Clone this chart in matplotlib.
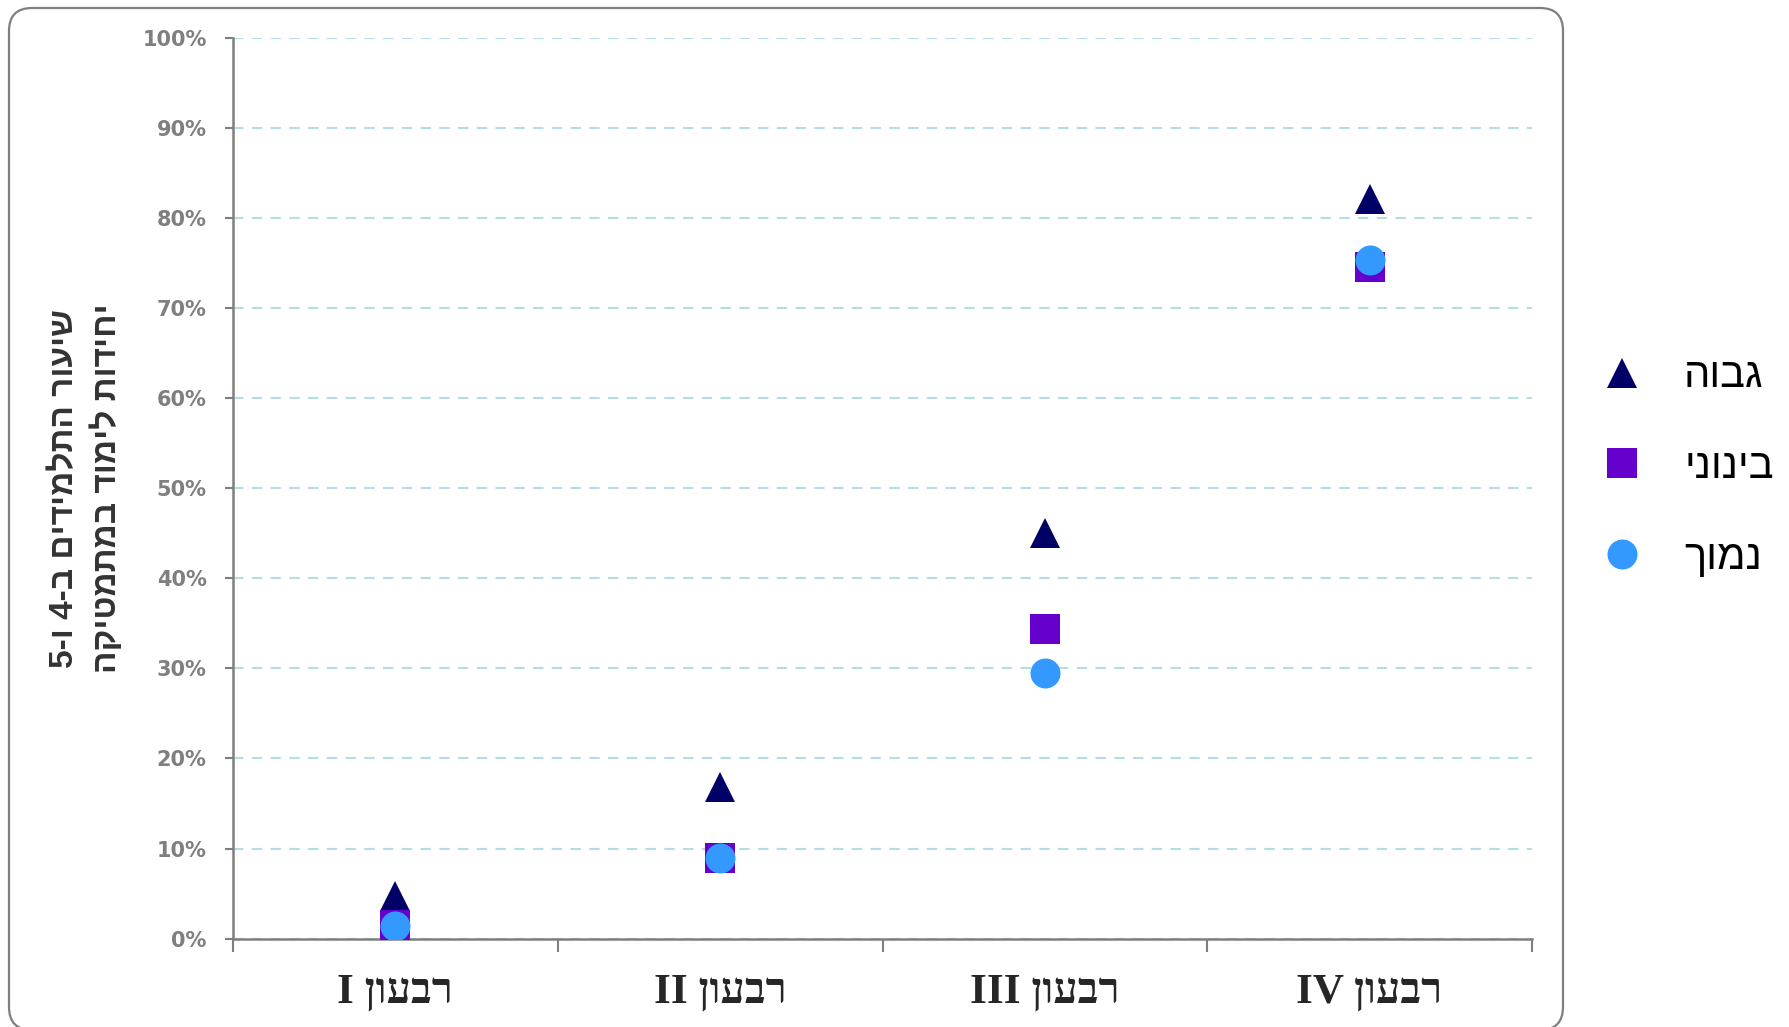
import matplotlib.pyplot as plt
from matplotlib.patches import FancyBboxPatch
from matplotlib.lines import Line2D
from matplotlib.transforms import IdentityTransform

# Hebrew strings are stored in visual (left-to-right) order, since matplotlib does no bidi
quarters = ["I ןועבר", "II ןועבר", "III ןועבר", "IV ןועבר"]
series_names = ["הובג", "ינוניב", "ךומנ"]
high = [4.7, 16.8, 45.0, 82.1]
medium = [1.5, 9.0, 34.4, 74.6]
low = [1.4, 8.9, 29.5, 75.3]
y_ticks = [0, 10, 20, 30, 40, 50, 60, 70, 80, 90, 100]
y_label = "5-ו 4-ב םידימלתה רועיש\nהקיטמתמב דומיל תודיחי"

colors = ["#000066", "#6600CC", "#3399FF"]
markers = ["^", "s", "o"]

W, H = 1789, 1027
fig = plt.figure(figsize=(W / 100, H / 100), dpi=100)
ax = fig.add_axes([233 / W, 1 - 938.6 / H, (1532 - 233) / W, (938.6 - 38) / H])

# rounded frame around the whole chart (pixel coordinates, bottom runs off the image)
border = FancyBboxPatch((9, -3), 1563 - 9, 1022,
                        boxstyle="round,pad=0,rounding_size=23",
                        transform=IdentityTransform(), fill=False,
                        edgecolor="#7f7f7f", linewidth=1.6)
fig.patches.append(border)

x = [i + 0.5 for i in range(len(quarters))]
for vals, c, m in zip([high, medium, low], colors, markers):
    ax.plot(x, vals, linestyle="none", marker=m, markersize=21.6,
            color=c, markeredgewidth=0, zorder=3)

ax.set_xlim(0, 4)
ax.set_ylim(0, 100)
ax.set_yticks(y_ticks)
ax.set_yticklabels([f"{v}%" for v in y_ticks], fontsize=15, fontweight="bold",
                   color="#7f7f7f", family=["DejaVu Sans"])
ax.set_xticks([0, 1, 2, 3, 4])
ax.set_xticklabels([])
ax.set_xticks(x, minor=True)
ax.set_xticklabels(quarters, minor=True, fontsize=31, fontweight="bold",
                   color="#262626", family=["Liberation Serif", "DejaVu Sans"])
ax.tick_params(axis="x", which="minor", length=0, pad=25)
ax.tick_params(axis="x", which="major", length=9.5, width=1.5, color="#7f7f7f", direction="out")
ax.tick_params(axis="y", length=6, width=1.5, color="#7f7f7f", pad=13)

ax.grid(axis="y", color="#b4dde6", linestyle=(0, (5, 4)), linewidth=1.5)
ax.set_axisbelow(True)
for s in ["top", "right"]:
    ax.spines[s].set_visible(False)
for s in ["left", "bottom"]:
    ax.spines[s].set_color("#7f7f7f")
    ax.spines[s].set_linewidth(1.8)

fig.text(86 / W, 1 - 488 / H, y_label, rotation=90, ha="center", va="center",
         fontsize=24, fontweight="bold", color="#333333", linespacing=1.4,
         family=["Liberation Sans", "DejaVu Sans"], multialignment="center")

handles = [Line2D([], [], linestyle="none", marker=m, markersize=21.6, color=c,
                  markeredgewidth=0) for c, m in zip(colors, markers)]
fig.legend(handles, series_names, loc="center left", bbox_to_anchor=(1601 / W, 1 - 467 / H),
           frameon=False, handlelength=1.0, handletextpad=1.0, labelspacing=1.22,
           borderpad=0, borderaxespad=0,
           prop={"family": ["Liberation Sans", "DejaVu Sans"], "size": 30})

fig.savefig("out.png", dpi=100)
